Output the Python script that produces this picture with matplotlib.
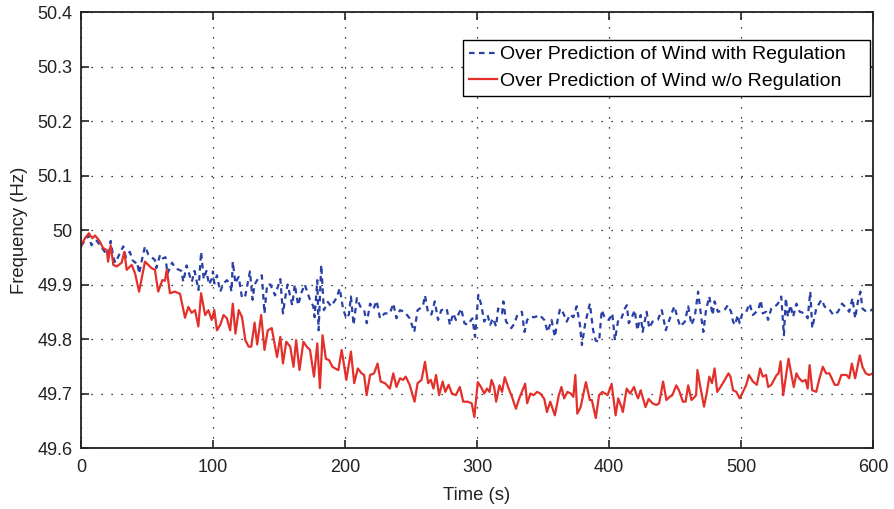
import numpy as np
from matplotlib import pyplot as plt

plt.rcParams['font.family'] = ['Liberation Sans', 'DejaVu Sans']

# Over prediction of wind with regulation (blue, dashed)
t_reg = [0, 5.5, 8, 10, 12, 15, 18, 21, 22.5, 24.5, 26, 28, 32, 34, 37, 39, 41, 42.5, 44, 47,
         48.5, 51, 56, 57, 60, 62, 64, 65.5, 69, 71.5, 76, 77.5, 80, 82.5, 84, 86, 89, 91, 93, 95,
         97, 99, 100, 101, 103, 105.5, 108, 110.5, 113, 114, 115, 117, 118, 119.5, 122, 124.5, 128, 130, 131.5, 134,
         137, 139, 141, 143.5, 147, 151, 153, 155, 156.5, 160, 162, 164.5, 167, 169.5, 173.5, 176, 177, 179, 180, 182,
         184, 187, 189.5, 193.5, 196, 198.5, 201, 203, 204.5, 206.5, 209, 211.5, 214.5, 216.5, 219, 221.5, 224, 226.5, 230, 234,
         236.6, 239, 241.7, 245, 249, 252.5, 255, 259, 260.6, 263, 265.5, 268, 270.5, 273, 277, 279.5, 282, 284, 288, 290.5,
         293, 296.5, 298.5, 301, 303, 305.5, 308, 310, 312, 314.5, 316, 319, 320, 322, 326, 328.5, 330.5, 334, 336, 338,
         340.5, 343.5, 347.5, 351, 353.5, 356.5, 359, 361.5, 363, 365.5, 368, 370.5, 373, 375.5, 378, 379.5, 382, 385.5, 388, 390,
         392.5, 394.5, 397, 400, 402.5, 404.5, 407, 409, 412, 413.5, 415, 417.5, 419.5, 421.5, 424, 425.5, 428.5, 430.5, 433, 437,
         440, 443, 447, 449.5, 452, 454, 457.5, 460, 462.5, 465, 467.5, 470, 471.5, 473.5, 476, 478.5, 480, 482.5, 487.5, 490,
         492.5, 494, 495.5, 497.5, 499, 501, 504, 506.5, 509, 513, 515, 516.5, 519, 520.5, 523, 525.5, 528, 530.5, 532.5, 534,
         535.5, 537.5, 539.5, 542, 544.5, 548.5, 550.5, 552.5, 554, 555.5, 557, 561, 563.5, 566.5, 570, 573.5, 576.5, 578.5, 582, 584.5,
         586.5, 588.5, 590.5, 592, 595, 599, 600]
f_reg = [49.97, 49.99, 49.972, 49.98, 49.98, 49.97, 49.96, 49.955, 49.98, 49.95, 49.94, 49.95, 49.97, 49.95, 49.96, 49.945, 49.94, 49.942, 49.92, 49.955,
         49.97, 49.955, 49.945, 49.93, 49.955, 49.948, 49.95, 49.92, 49.94, 49.93, 49.925, 49.905, 49.935, 49.915, 49.905, 49.925, 49.89, 49.96, 49.91, 49.925,
         49.9, 49.91, 49.924, 49.902, 49.917, 49.887, 49.902, 49.908, 49.9, 49.887, 49.942, 49.902, 49.908, 49.914, 49.875, 49.88, 49.924, 49.872, 49.9, 49.91,
         49.917, 49.847, 49.9, 49.9, 49.88, 49.91, 49.847, 49.88, 49.9, 49.862, 49.9, 49.862, 49.885, 49.9, 49.872, 49.86, 49.84, 49.908, 49.816, 49.936,
         49.853, 49.868, 49.86, 49.875, 49.893, 49.856, 49.838, 49.845, 49.878, 49.826, 49.875, 49.86, 49.853, 49.829, 49.865, 49.855, 49.87, 49.838, 49.847, 49.847,
         49.865, 49.838, 49.853, 49.85, 49.838, 49.813, 49.853, 49.86, 49.88, 49.847, 49.845, 49.869, 49.835, 49.853, 49.856, 49.826, 49.847, 49.835, 49.856, 49.829,
         49.826, 49.838, 49.804, 49.881, 49.865, 49.832, 49.844, 49.826, 49.838, 49.823, 49.856, 49.847, 49.869, 49.832, 49.82, 49.829, 49.844, 49.85, 49.813, 49.835,
         49.841, 49.84, 49.844, 49.835, 49.813, 49.835, 49.804, 49.841, 49.856, 49.847, 49.832, 49.845, 49.84, 49.86, 49.826, 49.789, 49.829, 49.865, 49.816, 49.797,
         49.795, 49.853, 49.838, 49.835, 49.847, 49.798, 49.835, 49.835, 49.856, 49.862, 49.829, 49.841, 49.853, 49.816, 49.844, 49.813, 49.85, 49.82, 49.832, 49.835,
         49.853, 49.816, 49.844, 49.86, 49.838, 49.823, 49.832, 49.86, 49.826, 49.841, 49.887, 49.838, 49.813, 49.853, 49.878, 49.844, 49.869, 49.85, 49.853, 49.862,
         49.85, 49.832, 49.826, 49.844, 49.829, 49.847, 49.85, 49.865, 49.844, 49.853, 49.871, 49.847, 49.85, 49.835, 49.856, 49.859, 49.865, 49.878, 49.807, 49.875,
         49.841, 49.862, 49.841, 49.865, 49.85, 49.847, 49.838, 49.887, 49.82, 49.838, 49.856, 49.872, 49.859, 49.856, 49.844, 49.85, 49.865, 49.86, 49.85, 49.875,
         49.838, 49.868, 49.887, 49.856, 49.85, 49.853, 49.856]

# Over prediction of wind without regulation (red, solid)
t_noreg = [0, 3, 6, 8.6, 10.6, 14, 16.7, 19.5, 20.5, 22.5, 24.5, 27, 30.8, 32.8, 34.6, 38.4, 41, 44, 48.5, 53.5,
           56, 58.5, 61.6, 63.6, 65, 67.4, 71, 75, 78.8, 81.3, 83.8, 86.4, 88.9, 91, 94, 96.5, 99, 101, 103, 105.5,
           108, 110.5, 113, 115, 117, 119.5, 122, 124.5, 127, 129, 131.5, 133.5, 136.5, 139, 141.5, 144.5, 148.5, 151, 153, 155.5,
           158.5, 161, 163, 165.5, 168.5, 171, 173.5, 176.5, 179, 181, 183, 185.5, 188, 190.5, 192.5, 195, 197.5, 201, 204.5, 207,
           209.7, 212.6, 214.5, 216.4, 219, 222, 224.7, 227, 230.3, 234, 236.6, 239, 241.7, 244, 246, 249, 252.7, 255, 258, 260.6,
           263, 265, 267, 269, 271.3, 274, 276, 278.5, 281, 284, 287, 289.6, 293, 296, 298, 300.6, 303, 305.5, 307.6, 309.5,
           311, 313, 314.5, 317, 319, 321, 324, 326.5, 329.5, 332, 334.5, 336.5, 338, 340.5, 343, 345.5, 348, 351, 353, 355.5,
           359, 362, 364, 366, 368.5, 371, 373, 374.5, 376, 378.5, 382.5, 385.5, 387, 390, 392.5, 395, 399, 402, 405, 407,
           409.5, 410.5, 413.4, 416, 419, 420.5, 422, 424, 427.7, 430, 433, 435.8, 438, 441, 443.5, 446, 448, 451, 453, 456,
           458, 460, 462.5, 465, 466, 467, 469, 472, 474, 476, 478, 480, 482, 484.5, 487, 490.5, 492, 494, 496.5, 499,
           501.5, 504, 506, 509, 512, 514.5, 516.5, 519, 520.6, 523, 527, 528.5, 530, 532, 534, 536, 538, 540, 542, 544,
           546.5, 549, 550.5, 552, 554, 557, 559.5, 562, 564.5, 567, 571, 573.5, 576, 580, 582, 584, 586.5, 590, 592, 594.5,
           597, 600]
f_noreg = [49.971, 49.985, 49.994, 49.985, 49.99, 49.98, 49.967, 49.963, 49.942, 49.972, 49.936, 49.933, 49.94, 49.96, 49.927, 49.936, 49.92, 49.887, 49.942, 49.93,
           49.927, 49.887, 49.908, 49.907, 49.927, 49.884, 49.887, 49.883, 49.839, 49.859, 49.848, 49.853, 49.823, 49.884, 49.844, 49.853, 49.835, 49.853, 49.816, 49.826,
           49.844, 49.838, 49.816, 49.865, 49.81, 49.853, 49.84, 49.798, 49.786, 49.786, 49.83, 49.79, 49.844, 49.78, 49.816, 49.82, 49.767, 49.804, 49.755, 49.795,
           49.786, 49.749, 49.798, 49.743, 49.795, 49.786, 49.78, 49.731, 49.792, 49.71, 49.807, 49.764, 49.761, 49.749, 49.746, 49.743, 49.78, 49.725, 49.777, 49.719,
           49.746, 49.737, 49.734, 49.697, 49.734, 49.737, 49.755, 49.722, 49.719, 49.709, 49.737, 49.712, 49.728, 49.725, 49.731, 49.716, 49.685, 49.719, 49.725, 49.758,
           49.719, 49.725, 49.709, 49.734, 49.697, 49.722, 49.703, 49.716, 49.7, 49.697, 49.712, 49.685, 49.685, 49.682, 49.657, 49.721, 49.712, 49.7, 49.709, 49.703,
           49.725, 49.712, 49.685, 49.715, 49.703, 49.73, 49.709, 49.694, 49.672, 49.691, 49.706, 49.718, 49.682, 49.7, 49.697, 49.703, 49.7, 49.69, 49.666, 49.685,
           49.66, 49.697, 49.712, 49.691, 49.703, 49.7, 49.694, 49.734, 49.663, 49.675, 49.721, 49.688, 49.688, 49.655, 49.697, 49.703, 49.697, 49.718, 49.66, 49.691,
           49.675, 49.666, 49.709, 49.7, 49.712, 49.7, 49.691, 49.706, 49.675, 49.69, 49.682, 49.679, 49.682, 49.722, 49.688, 49.694, 49.697, 49.715, 49.706, 49.685,
           49.685, 49.715, 49.688, 49.694, 49.697, 49.743, 49.715, 49.676, 49.7, 49.731, 49.719, 49.746, 49.703, 49.712, 49.722, 49.737, 49.731, 49.706, 49.703, 49.691,
           49.703, 49.716, 49.734, 49.722, 49.716, 49.746, 49.731, 49.734, 49.712, 49.716, 49.734, 49.737, 49.759, 49.697, 49.731, 49.764, 49.737, 49.712, 49.737, 49.728,
           49.722, 49.725, 49.709, 49.752, 49.706, 49.703, 49.728, 49.749, 49.737, 49.737, 49.716, 49.716, 49.734, 49.734, 49.728, 49.755, 49.728, 49.77, 49.749, 49.737,
           49.734, 49.737]

fig = plt.figure(figsize=(8.95, 5.09), dpi=100)
ax = fig.add_axes([0.0905, 0.1198, 0.8849, 0.8566])

ax.plot(t_reg, f_reg, '--', color='#2a40a6', lw=1.6, dashes=(2.5, 2),
        label='Over Prediction of Wind with Regulation')
ax.plot(t_noreg, f_noreg, '-', color='#e3302a', lw=1.6,
        label='Over Prediction of Wind w/o Regulation')

ax.set_xlim(0, 600)
ax.set_ylim(49.6, 50.4)
ax.set_xticks(np.arange(0, 601, 100))
ax.set_yticks(np.arange(49.6, 50.41, 0.1))
ax.set_yticklabels(['49.6', '49.7', '49.8', '49.9', '50', '50.1', '50.2', '50.3', '50.4'])
ax.tick_params(direction='in', top=True, right=True, labelsize=13, length=6, width=1.2, pad=6,
               colors='#222222', labelcolor='#222222')
ax.tick_params(axis='x', pad=8)
ax.grid(True, linestyle=(0, (1, 7)), color='black', lw=0.9)
for s in ax.spines.values():
    s.set_linewidth(1.3)
    s.set_color('#222222')

ax.set_xlabel('Time (s)', fontsize=13.3, labelpad=8, color='#222222')
ax.set_ylabel('Frequency (Hz)', fontsize=13.3, labelpad=7, color='#222222')

leg = ax.legend(loc='upper left', bbox_to_anchor=(0.4823, 0.0, 0.5139, 0.9358), mode='expand',
                borderaxespad=0, fontsize=14, fancybox=False, framealpha=1, edgecolor='black',
                handlelength=1.45, handletextpad=0.15, borderpad=0.3, labelspacing=0.45)
leg.get_frame().set_linewidth(1.0)

plt.savefig('out.png', dpi=100)
